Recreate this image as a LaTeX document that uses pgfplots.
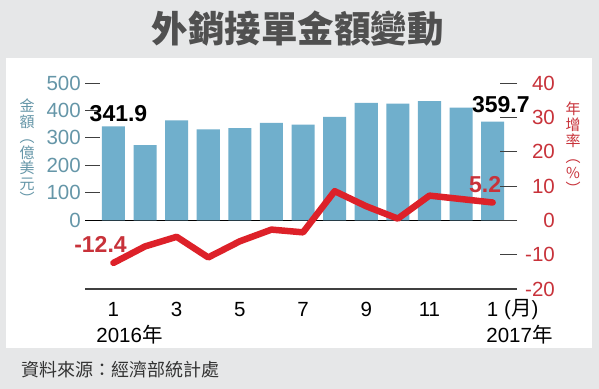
\documentclass[border=0pt]{standalone}
\usepackage{fontspec}
\setmainfont{Liberation Sans}
\newfontfamily\cjk{Noto Sans CJK TC}
\usepackage{pgfplots}
\pgfplotsset{compat=1.18}
\definecolor{bggray}{HTML}{E6E7E8}
\definecolor{barc}{HTML}{70AFCC}
\definecolor{leftc}{HTML}{6596A8}
\definecolor{redt}{HTML}{C8323A}
\definecolor{redl}{HTML}{DD2129}
\definecolor{titlec}{HTML}{505050}
\definecolor{axc}{HTML}{404040}
\begin{document}
\begin{tikzpicture}
\useasboundingbox (0bp,0bp) rectangle (599bp,389bp);
\fill[bggray] (0bp,0bp) rectangle (599bp,389bp);
\fill[white] (6bp,41bp) rectangle (592bp,331bp);
\node[font={\cjk\bfseries\fontsize{36.5bp}{40bp}\selectfont}, text=titlec, inner sep=0pt] at (297.5bp,360bp) {外銷接單金額變動};
% left axis: bars
\begin{axis}[at={(85bp,100bp)}, anchor=south west, scale only axis,
  width=432bp, height=206bp,
  xmin=-0.9, xmax=12.77, ymin=-250, ymax=500,
  /pgf/number format/assume math mode=true,
  axis x line*=bottom, axis y line*=left,
  y axis line style={draw=none},
  x axis line style={draw=axc, line width=1.2pt, -},
  ytick={0,100,200,300,400,500},
  tick align=inside, major tick length=15bp,
  ytick style={draw=axc, line width=0.9pt},
  yticklabel style={text=leftc, font=\fontsize{20.5bp}{22bp}\selectfont, anchor=east, inner sep=0pt, xshift=-4bp},
  xtick={0,2,4,6,8,10,12}, xticklabels={1,3,5,7,9,11,1},
  xtick style={draw=none},
  xticklabel style={font=\fontsize{20.5bp}{22bp}\selectfont, anchor=north, inner sep=0pt, yshift=-13bp},
  extra y ticks={0}, extra y tick labels={},
  extra y tick style={grid=major, major grid style={draw=black, line width=0.9pt}, major tick length=0pt},
  clip=false]
\addplot[ybar, bar width=0.73, fill=barc, draw=none] coordinates {
(0,341.9) (1,274) (2,364) (3,331) (4,336) (5,355) (6,348) (7,377) (8,428) (9,425) (10,434) (11,410) (12,359.7)};
\node[font=\bfseries\fontsize{23bp}{25bp}\selectfont, inner sep=0pt] at (axis cs:0.16,390) {341.9};
\node[font=\bfseries\fontsize{23bp}{25bp}\selectfont, inner sep=0pt] at (axis cs:12.26,423) {359.7};
\end{axis}
% right axis: line
\begin{axis}[at={(85bp,100bp)}, anchor=south west, scale only axis,
  width=432bp, height=206bp,
  xmin=-0.9, xmax=12.77, ymin=-20, ymax=40,
  /pgf/number format/assume math mode=true,
  axis x line=none, axis y line*=right,
  y axis line style={draw=none},
  ytick={-20,-10,0,10,20,30,40},
  tick align=inside, major tick length=17bp,
  ytick style={draw=axc, line width=0.9pt},
  yticklabel style={text=redt, font=\fontsize{20.5bp}{22bp}\selectfont, anchor=east, inner sep=0pt, xshift=38bp},
  clip=false]
\addplot[redl, line width=6.5bp, line cap=round, line join=round] coordinates {
(0,-12.4) (1,-7.6) (2,-4.8) (3,-10.8) (4,-6.1) (5,-2.7) (6,-3.5) (7,8.5) (8,4.1) (9,0.5) (10,7.2) (11,6.2) (12,5.2)};
\node[text=redt, font=\bfseries\fontsize{23bp}{25bp}\selectfont, inner sep=0pt] at (axis cs:-0.41,-7) {-12.4};
\node[text=redt, font=\bfseries\fontsize{23bp}{25bp}\selectfont, inner sep=0pt] at (axis cs:11.76,10.5) {5.2};
\end{axis}
% axis titles
\node[text=leftc, font={\cjk\fontsize{15bp}{15.5bp}\selectfont}, align=center, inner sep=0pt] at (27bp,237bp) {金\\額\\︵\\億\\美\\元\\︶};
\node[text=redt, font={\cjk\fontsize{15bp}{16bp}\selectfont}, align=center, inner sep=0pt] at (573bp,241bp) {年\\增\\率\\︵\\\%\\︶};
\node[anchor=west, inner sep=0pt, font=\fontsize{20.5bp}{22bp}\selectfont] at (504bp,79bp) {({\cjk 月})};
\node[inner sep=0pt, font=\fontsize{20.5bp}{22bp}\selectfont] at (129.5bp,54bp) {2016{\cjk 年}};
\node[inner sep=0pt, font=\fontsize{20.5bp}{22bp}\selectfont] at (519.5bp,54bp) {2017{\cjk 年}};
\node[anchor=west, inner sep=0pt, text=black!80, font={\cjk\fontsize{18bp}{20bp}\selectfont}] at (21bp,19bp) {資料來源：經濟部統計處};
\end{tikzpicture}
\end{document}
